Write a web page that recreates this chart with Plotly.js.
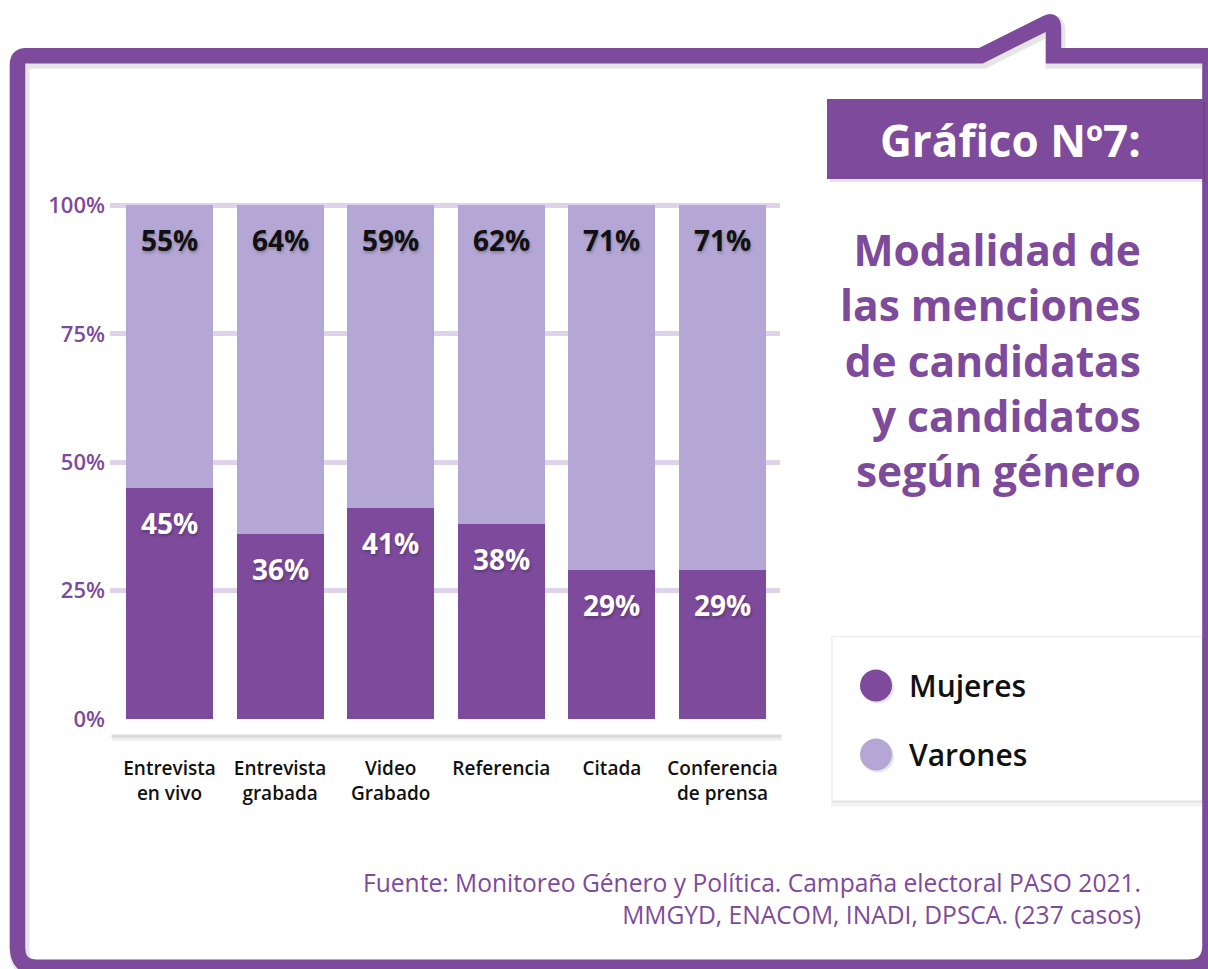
<!DOCTYPE html>
<html>
<head>
<meta charset="utf-8">
<script src="https://cdn.plot.ly/plotly-3.0.1.min.js"></script>
<style>html,body{margin:0;padding:0;background:#fff;}#chart{width:1208px;height:969px;}</style>
</head>
<body>
<div id="chart"></div>
<script>
// ---- data ----
const categories = ["Entrevista<br>en vivo", "Entrevista<br>grabada", "Video<br>Grabado", "Referencia", "Citada", "Conferencia<br>de prensa"];
const mujeres = [45, 36, 41, 38, 29, 29];
const varones = [55, 64, 59, 62, 71, 71];
const seriesNames = ["Mujeres", "Varones"];
const yTickVals = [0, 25, 50, 75, 100];
const yTickText = ["0%", "25%", "50%", "75%", "100%"];
const titleText = "Gráfico Nº7:";
const subtitleLines = ["Modalidad de", "las menciones", "de candidatas", "y candidatos", "según género"];
const sourceLines = ["Fuente: Monitoreo Género y Política. Campaña electoral PASO 2021.", "MMGYD, ENACOM, INADI, DPSCA. (237 casos)"];

// ---- style ----
const PURPLE = "#7d4a9c";
const LILAC = "#b4a7d6";
const GRID = "#ddd4ec";
const FONT = "Open Sans";

// plot area geometry (pixels)
const W = 1208, H = 969;
const L = 110, R = 780, T = 200, B = 719.5;
const xp = px => (px - L) / (R - L);
const yp = py => (B - py) / (B - T);

function path(cmds) {
  return cmds.map(c => {
    if (c[0] === 'Z') return 'Z';
    const pts = [];
    for (let i = 1; i < c.length; i += 2) pts.push(xp(c[i]).toFixed(5) + ',' + yp(c[i + 1]).toFixed(5));
    return c[0] + pts.join(' ');
  }).join(' ');
}
function offsetCmds(cmds, dx, dy) {
  return cmds.map(c => c[0] === 'Z' ? c : [c[0]].concat(c.slice(1).map((v, i) => i % 2 === 0 ? v + dx : v + dy)));
}

const frameCmds = [
  ['M', 17.5, 948], ['L', 17.5, 64], ['Q', 17.5, 55.5, 26, 55.5],
  ['L', 981, 55.5], ['L', 1046, 23], ['Q', 1053.5, 18.5, 1053.5, 28],
  ['L', 1053.5, 55.5], ['L', 1210, 55.5], ['L', 1210, 946],
  ['Q', 1210, 968, 1188, 968], ['L', 37, 968], ['Q', 17.5, 968, 17.5, 948], ['Z']
];

const shapes = [];
// frame shadow + frame
shapes.push({type: 'path', xref: 'paper', yref: 'paper', layer: 'below', path: path(offsetCmds(frameCmds, 2, 3)),
  line: {color: 'rgba(0,0,0,0.10)', width: 20}});
shapes.push({type: 'path', xref: 'paper', yref: 'paper', layer: 'below', path: path(frameCmds),
  line: {color: PURPLE, width: 15.5}});
// title block
shapes.push({type: 'rect', xref: 'paper', yref: 'paper', layer: 'below', x0: xp(830), x1: xp(1205), y0: yp(102), y1: yp(182),
  fillcolor: 'rgba(0,0,0,0.10)', line: {width: 0}});
shapes.push({type: 'rect', xref: 'paper', yref: 'paper', layer: 'below', x0: xp(827), x1: xp(1203), y0: yp(99), y1: yp(179),
  fillcolor: PURPLE, line: {width: 0}});
// legend box with shadow
shapes.push({type: 'rect', xref: 'paper', yref: 'paper', layer: 'below', x0: xp(831), x1: xp(1203), y0: yp(636), y1: yp(807),
  fillcolor: 'rgba(0,0,0,0.05)', line: {width: 0}});
shapes.push({type: 'rect', xref: 'paper', yref: 'paper', layer: 'below', x0: xp(833), x1: xp(1203), y0: yp(638), y1: yp(803),
  fillcolor: 'rgba(0,0,0,0.06)', line: {width: 0}});
shapes.push({type: 'rect', xref: 'paper', yref: 'paper', layer: 'below', x0: xp(833), x1: xp(1202), y0: yp(638), y1: yp(801),
  fillcolor: '#ffffff', line: {width: 0}});
// baseline (white with shadow)
shapes.push({type: 'line', xref: 'paper', yref: 'paper', layer: 'above', x0: xp(112), x1: xp(782), y0: yp(733), y1: yp(733),
  line: {color: 'rgba(0,0,0,0.07)', width: 16}});
shapes.push({type: 'line', xref: 'paper', yref: 'paper', layer: 'above', x0: xp(111), x1: xp(781), y0: yp(731), y1: yp(731),
  line: {color: 'rgba(0,0,0,0.08)', width: 14}});
shapes.push({type: 'line', xref: 'paper', yref: 'paper', layer: 'above', x0: xp(111), x1: xp(780), y0: yp(727.5), y1: yp(727.5),
  line: {color: '#ffffff', width: 15}});
shapes.push({type: 'circle', xref: 'paper', yref: 'paper', layer: 'above', x0: xp(103), x1: xp(118), y0: yp(720), y1: yp(735),
  fillcolor: '#ffffff', line: {width: 0}});
shapes.push({type: 'circle', xref: 'paper', yref: 'paper', layer: 'above', x0: xp(773), x1: xp(788), y0: yp(720), y1: yp(735),
  fillcolor: '#ffffff', line: {width: 0}});

// legend markers
const legendColors = [PURPLE, LILAC];
const legendY = [686, 755];
const annotations = [];
seriesNames.forEach((n, i) => {
  const cy = legendY[i];
  shapes.push({type: 'circle', xref: 'paper', yref: 'paper', layer: 'above', x0: xp(862), x1: xp(894), y0: yp(cy - 14), y1: yp(cy + 18),
    fillcolor: 'rgba(0,0,0,0.10)', line: {width: 0}});
  shapes.push({type: 'circle', xref: 'paper', yref: 'paper', layer: 'above', x0: xp(860), x1: xp(892), y0: yp(cy - 16), y1: yp(cy + 16),
    fillcolor: legendColors[i], line: {width: 0}});
  annotations.push({xref: 'paper', yref: 'paper', x: xp(907), y: yp(cy), xanchor: 'left', yanchor: 'middle', showarrow: false,
    text: n, font: {family: FONT, size: 30, weight: 600, color: '#111111'}});
});

// value labels
const labelFont = c => ({family: FONT, size: 28, weight: 700, color: c, shadow: '1px 2px 3px rgba(0,0,0,0.25)'});
categories.forEach((c, i) => {
  annotations.push({x: c, y: mujeres[i], xref: 'x', yref: 'y', yshift: -35, yanchor: 'middle', showarrow: false,
    text: mujeres[i] + '%', font: labelFont('#ffffff')});
  annotations.push({x: c, y: mujeres[i] + varones[i], xref: 'x', yref: 'y', yshift: -35, yanchor: 'middle', showarrow: false,
    text: varones[i] + '%', font: labelFont('#111111')});
});

// title
annotations.push({xref: 'paper', yref: 'paper', x: xp(1143), y: yp(140), xanchor: 'right', yanchor: 'middle', showarrow: false,
  text: titleText, font: {family: FONT, size: 44, weight: 700, color: '#ffffff'}});
// subtitle (one multi-line block)
annotations.push({xref: 'paper', yref: 'paper', x: xp(1143), y: yp(360), xanchor: 'right', yanchor: 'middle', align: 'right', showarrow: false,
  text: subtitleLines.join('<br>'), font: {family: FONT, size: 42.5, weight: 700, color: PURPLE}});
// source
annotations.push({xref: 'paper', yref: 'paper', x: xp(1143), y: yp(899), xanchor: 'right', yanchor: 'middle', align: 'right', showarrow: false,
  text: sourceLines.join('<br>'), font: {family: FONT, size: 24.6, weight: 400, color: PURPLE}});

const traces = [
  {type: 'bar', name: seriesNames[0], x: categories, y: mujeres, marker: {color: PURPLE, line: {width: 0}}, hoverinfo: 'skip'},
  {type: 'bar', name: seriesNames[1], x: categories, y: varones, marker: {color: LILAC, line: {width: 0}}, hoverinfo: 'skip'}
];

const layout = {
  width: W, height: H,
  margin: {l: L, r: W - R, t: T, b: H - B, pad: 0},
  paper_bgcolor: '#ffffff', plot_bgcolor: 'rgba(0,0,0,0)',
  barmode: 'stack', bargap: 0.213,
  showlegend: false,
  xaxis: {type: 'category', range: [-0.538, 5.52], showgrid: false, zeroline: false, showline: false, ticks: '',
    ticklabelstandoff: 36, tickfont: {family: FONT, size: 19, weight: 600, color: '#111111'}, fixedrange: true},
  yaxis: {range: [0, (B - T) / 5.14], tickvals: yTickVals, ticktext: yTickText, showgrid: true, gridcolor: GRID, gridwidth: 5,
    zeroline: false, showline: false, ticks: '', ticklabelstandoff: 4,
    tickfont: {family: FONT, size: 22, weight: 600, color: PURPLE}, fixedrange: true},
  shapes: shapes,
  annotations: annotations
};

Plotly.newPlot('chart', traces, layout, {displayModeBar: false, staticPlot: true});
</script>
</body>
</html>
